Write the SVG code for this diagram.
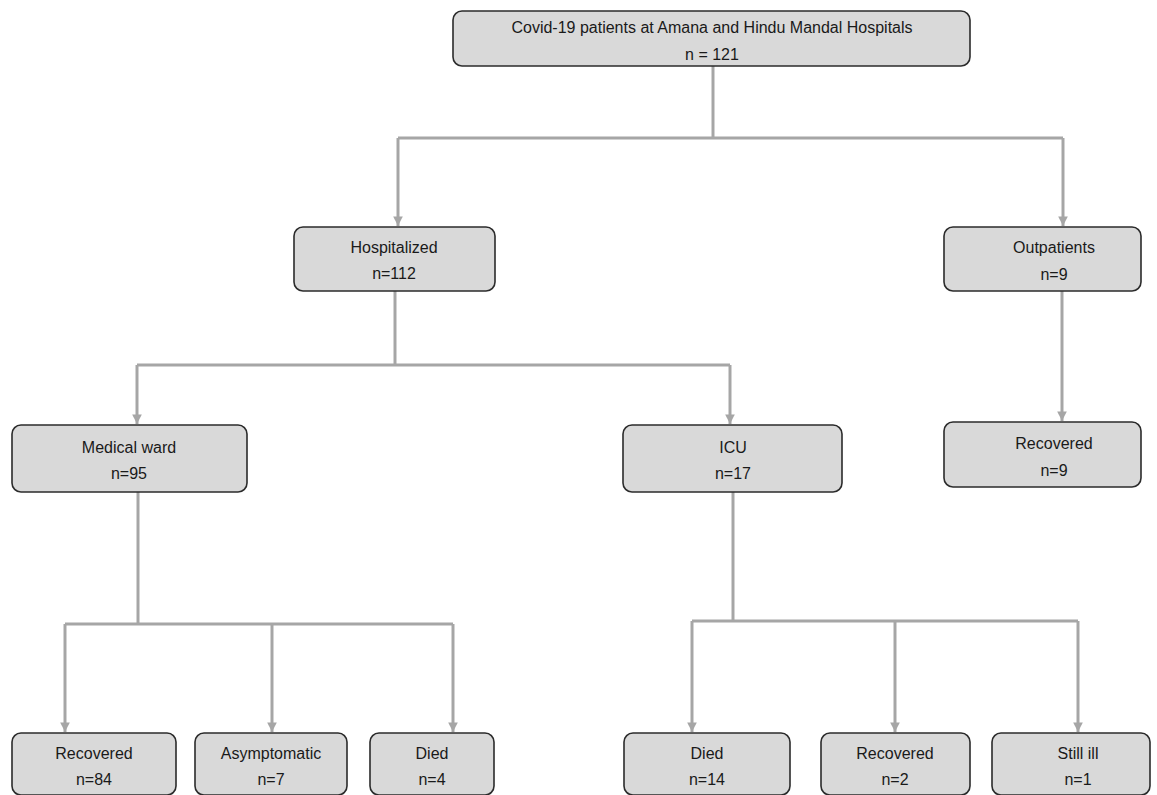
<svg xmlns="http://www.w3.org/2000/svg" width="1157" height="795" viewBox="0 0 1157 795">
<style>
.box{fill:#d9d9d9;stroke:#2b2b2b;stroke-width:1.6}
.t{font-family:"Liberation Sans",Arial,sans-serif;font-size:16px;fill:#1a1a1a;text-anchor:middle}
.c{fill:none;stroke:#a6a6a6;stroke-width:3}
</style>
<defs>
<marker id="ah" viewBox="0 0 10 10" refX="10" refY="5" markerWidth="3.2" markerHeight="3.2" orient="auto" markerUnits="strokeWidth">
<path d="M0,0 L10,5 L0,10 z" fill="#a6a6a6"/>
</marker>
</defs>
<rect width="1157" height="795" fill="#fff"/>
<g id="connectors">
<path class="c" d="M713,66 V138"/>
<path class="c" d="M398,138 H1063"/>
<path class="c" d="M398,138 V226" marker-end="url(#ah)"/>
<path class="c" d="M1063,138 V226" marker-end="url(#ah)"/>
<path class="c" d="M395,291 V365"/>
<path class="c" d="M137,365 H730"/>
<path class="c" d="M137,365 V424" marker-end="url(#ah)"/>
<path class="c" d="M730,365 V424" marker-end="url(#ah)"/>
<path class="c" d="M1062,291 V421" marker-end="url(#ah)"/>
<path class="c" d="M138,492 V624"/>
<path class="c" d="M65,624 H453"/>
<path class="c" d="M65,624 V732" marker-end="url(#ah)"/>
<path class="c" d="M272,624 V732" marker-end="url(#ah)"/>
<path class="c" d="M453,624 V732" marker-end="url(#ah)"/>
<path class="c" d="M733,492 V621"/>
<path class="c" d="M692,621 H1078"/>
<path class="c" d="M692,621 V732" marker-end="url(#ah)"/>
<path class="c" d="M895,621 V732" marker-end="url(#ah)"/>
<path class="c" d="M1078,621 V732" marker-end="url(#ah)"/>
</g>
<g id="n-top"><rect class="box" x="453" y="11" width="517" height="55" rx="9"/><text class="t" x="712" y="33">Covid-19 patients at Amana and Hindu Mandal Hospitals</text><text class="t" x="712" y="60">n = 121</text></g>
<g id="n-hosp"><rect class="box" x="294" y="227" width="201" height="64" rx="9"/><text class="t" x="394" y="253">Hospitalized</text><text class="t" x="394" y="279">n=112</text></g>
<g id="n-out"><rect class="box" x="944" y="227" width="197" height="64" rx="9"/><text class="t" x="1054" y="253">Outpatients</text><text class="t" x="1054" y="280">n=9</text></g>
<g id="n-med"><rect class="box" x="12" y="425" width="235" height="67" rx="9"/><text class="t" x="129" y="453">Medical ward</text><text class="t" x="129" y="479">n=95</text></g>
<g id="n-icu"><rect class="box" x="623" y="425" width="219" height="67" rx="9"/><text class="t" x="733" y="453">ICU</text><text class="t" x="733" y="479">n=17</text></g>
<g id="n-outrec"><rect class="box" x="944" y="422" width="197" height="65" rx="9"/><text class="t" x="1054" y="449">Recovered</text><text class="t" x="1054" y="476">n=9</text></g>
<g id="n-rec84"><rect class="box" x="12" y="733" width="164" height="62" rx="9"/><text class="t" x="94" y="759">Recovered</text><text class="t" x="94" y="785">n=84</text></g>
<g id="n-asym"><rect class="box" x="195" y="733" width="152" height="62" rx="9"/><text class="t" x="271" y="759">Asymptomatic</text><text class="t" x="271" y="785">n=7</text></g>
<g id="n-died4"><rect class="box" x="370" y="733" width="124" height="62" rx="9"/><text class="t" x="432" y="759">Died</text><text class="t" x="432" y="785">n=4</text></g>
<g id="n-died14"><rect class="box" x="624" y="733" width="166" height="62" rx="9"/><text class="t" x="707" y="759">Died</text><text class="t" x="707" y="785">n=14</text></g>
<g id="n-rec2"><rect class="box" x="821" y="733" width="149" height="62" rx="9"/><text class="t" x="895" y="759">Recovered</text><text class="t" x="895" y="785">n=2</text></g>
<g id="n-ill"><rect class="box" x="992" y="733" width="158" height="62" rx="9"/><text class="t" x="1078" y="759">Still ill</text><text class="t" x="1078" y="785">n=1</text></g>
</svg>
